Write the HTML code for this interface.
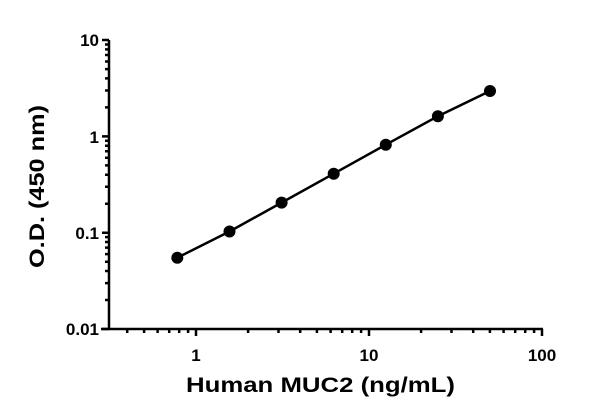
<!DOCTYPE html>
<html><head><meta charset="utf-8"><style>
html,body{margin:0;padding:0;background:#fff;}
svg{display:block;font-family:"Liberation Sans",sans-serif;font-weight:bold;}
</style></head><body>
<svg width="600" height="417" viewBox="0 0 600 417" xmlns="http://www.w3.org/2000/svg">
<g stroke="#000" stroke-width="2.5" fill="none">
<path d="M109,40 V330 M101,329 H543"/>
<path d="M102,40 H109 M102,136.4 H109 M102,232.7 H109 M102,329 H109"/>
<path d="M105,300 H109 M105,283.1 H109 M105,271 H109 M105,261.7 H109 M105,254.1 H109 M105,247.6 H109 M105,242 H109 M105,237.1 H109
M105,203.7 H109 M105,186.8 H109 M105,174.7 H109 M105,165.4 H109 M105,157.8 H109 M105,151.3 H109 M105,145.7 H109 M105,140.8 H109
M105,107.4 H109 M105,90.5 H109 M105,78.4 H109 M105,69.1 H109 M105,61.5 H109 M105,55 H109 M105,49.4 H109 M105,44.5 H109"/>
<path d="M196,329 V336 M369,329 V336 M542,329 V336"/>
<path d="M127.2,329 V333 M144.1,329 V333 M157.6,329 V333 M169.2,329 V333 M179.2,329 V333 M188.1,329 V333
M248.1,329 V333 M278.5,329 V333 M300.2,329 V333 M316.9,329 V333 M330.6,329 V333 M342.2,329 V333 M352.2,329 V333 M361.1,329 V333
M421.1,329 V333 M451.5,329 V333 M473.2,329 V333 M489.9,329 V333 M503.6,329 V333 M515.2,329 V333 M525.2,329 V333 M534.1,329 V333"/>
<polyline points="177.3,257.7 229.5,231.5 281.6,202.6 333.7,173.7 385.8,144.7 437.9,116.2 490,91"/>
</g>
<g fill="#000">
<circle cx="177.3" cy="257.7" r="6"/><circle cx="229.5" cy="231.5" r="6"/><circle cx="281.6" cy="202.6" r="6"/>
<circle cx="333.7" cy="173.7" r="6"/><circle cx="385.8" cy="144.7" r="6"/><circle cx="437.9" cy="116.2" r="6"/>
<circle cx="490" cy="91" r="6"/>
</g>
<g font-size="17" text-anchor="end" fill="#000">
<text x="99" y="46">10</text><text x="99" y="143">1</text><text x="99" y="239">0.1</text><text x="99" y="335">0.01</text>
</g>
<g font-size="17" text-anchor="middle" fill="#000">
<text x="196" y="361">1</text><text x="369" y="361">10</text><text x="542" y="361">100</text>
</g>
<text x="186" y="392" font-size="21" textLength="269" lengthAdjust="spacingAndGlyphs">Human MUC2 (ng/mL)</text>
<text transform="translate(44,268) rotate(-90)" font-size="21" textLength="163" lengthAdjust="spacingAndGlyphs">O.D. (450 nm)</text>
</svg>
</body></html>
